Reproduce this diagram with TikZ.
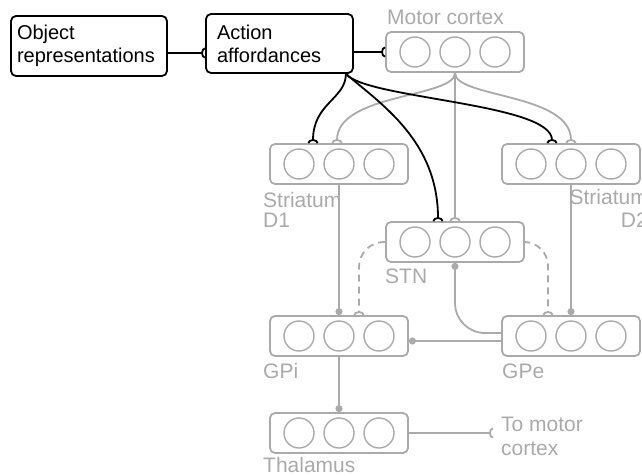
\documentclass[tikz,border=0pt]{standalone}
\usepackage{fontspec}
\setmainfont{Liberation Sans}
\usetikzlibrary{arrows.meta}
\definecolor{nucgray}{RGB}{170,170,170}
\tikzset{
	concept/.style={draw=black, line width=1.8pt, rounded corners=5pt, align=left, inner ysep=0pt, font=\fontsize{20}{23}\selectfont},
	nucleus/.style={draw=nucgray, line width=1.8pt, rounded corners=5pt, minimum width=138pt, minimum height=40pt, inner sep=0pt},
	unit/.style={circle, draw=nucgray, line width=1.4pt, minimum size=30pt, inner sep=0pt},
	glabel/.style={text=nucgray, inner sep=0pt, font=\fontsize{21}{22}\selectfont},
	exc/.style={-{Arc Barb[reversed,width=11pt,length=4pt]}, line width=1.8pt},
	inh/.style={-{Circle[length=7pt]}, line width=1.8pt, draw=nucgray},
}
\begin{document}
\begin{tikzpicture}[x=1pt, y=-1pt]
	\useasboundingbox (0,0) rectangle (642,476);
	\node[concept, minimum width=156pt, minimum height=60pt, text width=144pt, inner xsep=6pt] (obj) at (89,46) {Object\\representations};
	\node[concept, minimum width=147pt, minimum height=59pt, text width=125pt, inner xsep=11pt] (act) at (279.5,43.5) {Action\\affordances};
	\foreach \n/\x/\y in {mc/455/52, d1/339/164, d2/571/164, stn/455/242, gpi/339/336, gpe/571/336, thal/339/433} {
		\node[nucleus] (\n) at (\x,\y) {};
		\foreach \i/\k in {-40/1, 0/2, 40/3}
			\node[unit] (\n\k) at ([xshift=\i pt]\n.center) {};
	}
	\node[glabel, anchor=base west] (mclab) at (387,25) {Motor cortex};
	\node[glabel, anchor=base west, align=left] (d1lab) at (263,227) {Striatum\\[-2pt]D1};
	\node[glabel, anchor=base east, align=right] (d2lab) at (648,227) {Striatum\\[1pt]D2};
	\node[glabel, anchor=base west] (stnlab) at (385,283) {STN};
	\node[glabel, anchor=base west] (gpilab) at (263,378) {GPi};
	\node[glabel, anchor=base west] (gpelab) at (502,378) {GPe};
	\node[glabel, anchor=base west] (thallab) at (263,472) {Thalamus};
	\node[glabel, anchor=base west, align=left] (outlab) at (501,455) {To motor\\[2pt]cortex};
	\coordinate (out) at (493,433);
	\coordinate (actout) at ([xshift=-8pt]act.south east);
	\draw[exc] ([yshift=-7pt]obj.east) -- ([yshift=-7pt]obj.east -| act.west);
	\draw[exc] (act.east |- mc.west) -- (mc.west);
	\draw[exc, nucgray] (mc.south) -- (stn.north);
	\draw[exc, nucgray] (mc.south) .. controls +(0,25) and +(0,-50) .. ([xshift=-2pt]d1.north);
	\draw[exc, nucgray] (mc.south) .. controls +(0,25) and +(0,-50) .. (d2.north);
	\draw[exc] (actout) .. controls +(0,25) and +(0,-40) .. ([xshift=-26pt]d1.north);
	\draw[exc] (actout) .. controls +(35,30) and +(0,-80) .. ([xshift=-17pt]stn.north);
	\draw[exc] (actout) .. controls +(20,25) and +(0,-40) .. ([xshift=-19pt]d2.north);
	\draw[inh] (d1.south) -- (gpi.north);
	\draw[inh] (d2.south) -- (gpe.north);
	\draw[inh] (gpi.south) -- (thal.north);
	\draw[inh] ([yshift=-5pt]gpe.west) -- ([yshift=-5pt]gpi.east);
	\draw[inh, rounded corners=30pt] ([yshift=3pt]gpe.west) -| (stn.south);
	\draw[exc, nucgray, dash pattern=on 7pt off 5pt, rounded corners=25pt] (stn.west) -| ([xshift=20pt]gpi.north);
	\draw[exc, nucgray, dash pattern=on 7pt off 5pt, rounded corners=24pt] (stn.east) -| ([xshift=-23pt]gpe.north);
	\draw[exc, nucgray] (thal.east) -- (out);
\end{tikzpicture}
\end{document}
